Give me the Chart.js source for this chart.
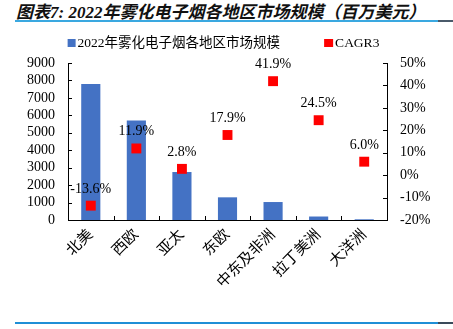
<!DOCTYPE html>
<html>
<head>
<meta charset="utf-8">
<script src="https://cdn.jsdelivr.net/npm/chart.js@4"></script>
<style>
  body { margin: 0; background: #fff; width: 453px; height: 329px; position: relative; overflow: hidden; }
  #title { position: absolute; left: 16px; top: -2px; font: italic bold 17px "Liberation Serif", "Noto Sans CJK SC"; color: #111; white-space: nowrap; }
  .line { position: absolute; height: 2px; }
  #wrap { position: absolute; left: 0; top: 26px; width: 453px; height: 292px; }
</style>
</head>
<body>
<div id="title">图表7: 2022年雾化电子烟各地区市场规模（百万美元）</div>
<div class="line" style="left:15px; top:20px; width:423px; background:#3aa8e0;"></div>
<div class="line" style="left:438px; top:20px; width:15px; background:#4a5a6a;"></div>
<div class="line" style="left:15px; top:322px; width:423px; background:#1f8fd6;"></div>
<div class="line" style="left:438px; top:322px; width:15px; background:#3a4a5a;"></div>
<div id="wrap"><canvas id="chart1"></canvas></div>
<script>
var regions = ['北美', '西欧', '亚太', '东欧', '中东及非洲', '拉丁美洲', '大洋洲'];
var marketSize = [7800, 5700, 2750, 1300, 1030, 200, 40];
var cagr = [-13.6, 11.9, 2.8, 17.9, 41.9, 24.5, 6.0];

var serif = '"Liberation Serif", "Noto Sans CJK SC"';

// inside tick marks, cagr labels and a legend with wide item spacing
var extras = {
  id: 'extras',
  afterDraw: function (chart) {
    var c = chart.ctx, a = chart.chartArea;
    var x = chart.scales.x, yl = chart.scales.y, yr = chart.scales.y1;
    c.save();
    c.strokeStyle = '#000';
    c.lineWidth = 1;
    c.beginPath();
    yl.ticks.forEach(function (t) {
      var p = Math.round(yl.getPixelForValue(t.value)) + 0.5;
      c.moveTo(a.left, p); c.lineTo(a.left + 4, p);
    });
    yr.ticks.forEach(function (t) {
      var p = Math.round(yr.getPixelForValue(t.value)) + 0.5;
      c.moveTo(a.right, p); c.lineTo(a.right - 4, p);
    });
    for (var i = 1; i < regions.length; i++) {
      var px = Math.round((x.getPixelForValue(i - 1) + x.getPixelForValue(i)) / 2) + 0.5;
      c.moveTo(px, a.bottom); c.lineTo(px, a.bottom - 4);
    }
    c.stroke();

    var meta = chart.getDatasetMeta(1);
    c.fillStyle = '#000';
    c.font = '14px ' + serif;
    c.textAlign = 'center';
    c.textBaseline = 'alphabetic';
    meta.data.forEach(function (pt, i) {
      c.fillText(cagr[i].toFixed(1) + '%', pt.x, pt.y - 13);
    });

    // legend
    var ds = chart.data.datasets;
    c.font = '13.5px ' + serif;
    c.textAlign = 'left';
    c.textBaseline = 'middle';
    var box = 8, gap = 2, between = 44;
    var w0 = c.measureText(ds[0].label).width, w1 = c.measureText(ds[1].label).width;
    var total = box + gap + w0 + between + box + gap + w1;
    var lx = 223 - total / 2, ly = 17;
    c.fillStyle = ds[0].backgroundColor;
    c.fillRect(lx, ly - 4, box, box);
    c.fillStyle = '#000';
    c.fillText(ds[0].label, lx + box + gap, ly);
    lx += box + gap + w0 + between;
    c.fillStyle = ds[1].backgroundColor;
    c.fillRect(lx, ly - 4, box + 1, box);
    c.fillStyle = '#000';
    c.fillText(ds[1].label, lx + box + gap + 1, ly);
    c.restore();
  }
};

var ctx = document.getElementById('chart1').getContext('2d');
var chart1 = new Chart(ctx, {
  type: 'bar',
  data: {
    labels: regions,
    datasets: [{
      label: '2022年雾化电子烟各地区市场规模',
      data: marketSize,
      backgroundColor: '#4472c4',
      barPercentage: 0.42,
      categoryPercentage: 1,
      yAxisID: 'y',
      order: 2
    }, {
      label: 'CAGR3',
      type: 'line',
      data: cagr,
      showLine: false,
      pointStyle: 'rect',
      pointRadius: 7,
      pointHoverRadius: 7,
      backgroundColor: '#ff0000',
      borderColor: '#ff0000',
      borderWidth: 0,
      yAxisID: 'y1',
      order: 1
    }]
  },
  options: {
    responsive: true,
    maintainAspectRatio: false,
    animation: false,
    events: [],
    layout: { padding: { left: 0, right: 0, top: 37, bottom: 0 } },
    plugins: {
      legend: { display: false },
      tooltip: { enabled: false }
    },
    scales: {
      x: {
        offset: true,
        grid: { display: false, drawTicks: false },
        border: { display: true, color: '#000' },
        ticks: {
          color: '#000', minRotation: 45, maxRotation: 45, padding: 6,
          font: { family: serif, size: 15 }
        },
        afterFit: function (s) { s.height = 98; }
      },
      y: {
        position: 'left',
        min: 0, max: 9000,
        grid: { display: false, drawTicks: false },
        border: { display: true, color: '#000' },
        ticks: {
          stepSize: 1000, autoSkip: false, color: '#000', padding: 13, font: { family: serif, size: 14 },
          callback: function (v) { return String(v); }
        },
        afterFit: function (s) { s.width = 68; }
      },
      y1: {
        position: 'right',
        min: -20, max: 50,
        grid: { display: false, drawTicks: false },
        border: { display: true, color: '#000' },
        ticks: {
          stepSize: 10, autoSkip: false, color: '#000', padding: 13, font: { family: serif, size: 14 },
          callback: function (v) { return v + '%'; }
        },
        afterFit: function (s) { s.width = 66; }
      }
    }
  },
  plugins: [extras]
});
</script>
</body>
</html>
